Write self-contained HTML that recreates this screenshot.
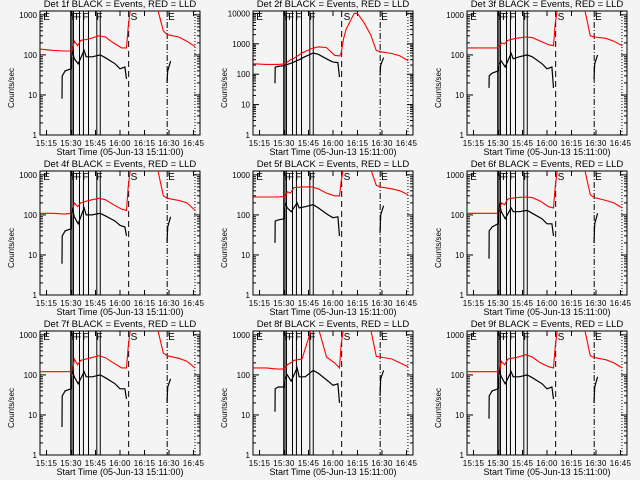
<!DOCTYPE html>
<html><head><meta charset="utf-8"><style>
html,body{margin:0;padding:0;background:#f4f4f4;}
svg{display:block;font-family:"Liberation Sans",sans-serif;}
</style></head><body>
<svg id="chart" width="640" height="480" viewBox="0 0 640 480"></svg>
<script>
const TICK_LABELS = ["15:15","15:30","15:45","16:00","16:15","16:30","16:45"];
const TICK_MIN = [4,19,34,49,64,79,94];
const T_RED = [0,8,15,19,20,21,23,25,30,36,40,45,50,53,54,55.5,57,62,64,68,72,75.5,78,85,90,95];
const T_BLK = [13.5,13.6,15.4,19,19.7,21,23.4,27,28.3,32,36.9,40,46,49,52,53];
const T_BLK2 = [77.8,78.2,80];
const EVT_SOLID = [18.8,19.6,20.5,24.2,26.6,29.7,34.8,36.9];
const EVT_DASH = 54.3, EVT_DASHDOT = 77.9, EVT_DOT = 94.9;
const YMAX = [1250,12000,1250,1250,1250,1250,1250,1250,1250];
const RED_V = [
 [140,130,125,125,140,220,170,230,250,300,280,200,150,150,500,1500,5000,9000,9000,5000,1400,400,320,280,220,160],
 [220,210,210,215,230,250,300,330,500,700,800,750,420,400,500,1500,3000,10000,10000,5000,2000,600,550,480,400,280],
 [150,150,150,150,160,200,190,230,260,280,270,220,180,170,600,1500,5000,9000,9000,5000,1400,300,280,260,220,170],
 [110,110,105,110,130,200,160,200,230,260,240,180,140,130,500,1500,5000,9000,9000,5000,1400,300,260,230,200,130],
 [280,280,280,290,300,380,350,480,500,500,450,350,300,300,700,1500,5000,9000,9000,5000,1400,550,500,450,400,320],
 [110,110,110,110,120,200,180,250,270,280,270,220,160,150,500,1500,5000,9000,9000,5000,1400,320,270,230,200,150],
 [120,120,120,120,130,250,180,230,260,300,270,200,150,150,500,1500,5000,9000,9000,5000,1400,350,300,260,220,150],
 [150,150,140,140,150,180,200,230,250,1500,1500,280,200,150,600,1500,5000,9000,9000,5000,1400,290,280,250,200,160],
 [120,120,120,120,130,220,180,250,270,320,280,200,160,150,500,1500,5000,9000,9000,5000,1400,300,270,240,200,150]
];
const BLK_V = [
 [8,30,40,45,130,80,60,130,90,90,100,85,60,45,50,25],
 [50,170,180,190,200,210,230,280,300,380,500,450,300,250,240,80],
 [15,30,35,40,60,70,50,110,80,90,100,90,60,45,50,15],
 [6,30,40,45,150,90,60,150,100,100,110,95,70,55,50,30],
 [20,70,75,80,200,150,120,200,150,160,180,150,100,85,90,30],
 [8,40,50,60,200,120,80,150,120,120,130,110,80,60,60,30],
 [5,30,40,45,130,90,60,120,90,90,100,85,60,45,45,25],
 [12,45,50,50,80,100,70,150,90,90,130,110,70,55,60,20],
 [8,30,40,45,130,90,60,120,90,90,100,85,60,45,50,25]
];
const BLK2_V = [
 [20,40,70],[90,200,350],[25,60,100],[20,50,90],[35,100,170],[20,60,110],[20,50,80],[30,80,130],[20,50,90]
];
const NS="http://www.w3.org/2000/svg";
const svg=document.getElementById('chart');
const X0=40,X1=200,Y0=11,Y1=135,TMAX=98;
function mk(tag,attrs,parent){const e=document.createElementNS(NS,tag);for(const k in attrs)e.setAttribute(k,attrs[k]);parent.appendChild(e);return e;}
for(let p=0;p<9;p++){
  const col=p%3,row=Math.floor(p/3);
  const g=mk('g',{transform:`translate(${Math.round(col*213.33)},${row*160})`},svg);
  
  
  const ymax=YMAX[p];
  const xs=t=>X0+t/TMAX*(X1-X0);
  const ys=v=>Y1-Math.log10(v)/Math.log10(ymax)*(Y1-Y0);
  const cp=mk('clipPath',{id:'c'+p},g);mk('rect',{x:X0,y:Y0,width:X1-X0,height:Y1-Y0},cp);
  const title=mk('text',{x:120,y:7,'text-anchor':'middle','font-size':'9.5'},g);
  title.textContent=`Det ${p+1}f BLACK = Events, RED = LLD`;
  
  
  const box=mk('rect',{x:X0,y:Y0,width:X1-X0,height:Y1-Y0,fill:'none',stroke:'#000','stroke-width':1},g);
  
  
  TICK_MIN.forEach((m,i)=>{const x=xs(m);
    mk('line',{x1:x,y1:Y1,x2:x,y2:Y1-5,stroke:'#000'},g);
    mk('line',{x1:x,y1:Y0,x2:x,y2:Y0+5,stroke:'#000'},g);
    const t=mk('text',{x:x,y:Y1+11,'text-anchor':'middle','font-size':'8','letter-spacing':'0.3'},g);
    t.textContent=TICK_LABELS[i];
    
    
  });
  const xt=mk('text',{x:120,y:Y1+20,'text-anchor':'middle','font-size':'9'},g);
  xt.textContent='Start Time (05-Jun-13 15:11:00)';
  
  
  const yt=mk('text',{x:0,y:0,'text-anchor':'middle','font-size':'8',transform:'translate(14,88) rotate(-90)'},g);
  yt.textContent='Counts/sec';
  
  
  const dec=Math.floor(Math.log10(ymax));
  for(let d=0;d<=dec;d++){
    const v=Math.pow(10,d),y=ys(v);
    mk('line',{x1:X0,y1:y,x2:X0+6,y2:y,stroke:'#000'},g);
    mk('line',{x1:X1,y1:y,x2:X1-6,y2:y,stroke:'#000'},g);
    const t=mk('text',{x:X0-3,y:y+3,'text-anchor':'end','font-size':'8'},g);
    t.textContent=String(v);
    
    
    for(let k=2;k<10;k++){const vv=v*k;if(vv>ymax)break;const y2=ys(vv);
      mk('line',{x1:X0,y1:y2,x2:X0+3,y2:y2,stroke:'#000'},g);
      mk('line',{x1:X1,y1:y2,x2:X1-3,y2:y2,stroke:'#000'},g);}
  }
  EVT_SOLID.forEach(t=>{mk('line',{x1:xs(t),y1:Y0,x2:xs(t),y2:Y1,stroke:'#000'},g);});
  mk('line',{x1:xs(EVT_DASH),y1:Y0,x2:xs(EVT_DASH),y2:Y1,stroke:'#000','stroke-dasharray':'6,4'},g);
  mk('line',{x1:xs(EVT_DASHDOT),y1:Y0,x2:xs(EVT_DASHDOT),y2:Y1,stroke:'#000','stroke-dasharray':'6,2,1,2'},g);
  mk('line',{x1:xs(EVT_DOT),y1:Y0,x2:xs(EVT_DOT),y2:Y1,stroke:'#000','stroke-dasharray':'1,2'},g);
  [['E',2],['F',19.5],['F',21.5],['F',26],['F',34.5],['S',55.5],['E',78.5]].forEach(([s,t])=>{
    const e=mk('text',{x:xs(t),y:Y0+9,'font-size':'10'},g);e.textContent=s;
    
    
  });
  const pts=(T,V)=>T.map((t,i)=>xs(t).toFixed(1)+','+ys(V[i]).toFixed(1)).join(' ');
  const red=mk('polyline',{points:pts(T_RED,RED_V[p]),fill:'none',stroke:'#ff0000','stroke-width':1.1,'clip-path':`url(#c${p})`},g);
  
  
  const blk=mk('polyline',{points:pts(T_BLK,BLK_V[p]),fill:'none',stroke:'#000','stroke-width':1.2,'clip-path':`url(#c${p})`},g);
  
  
  const blk2=mk('polyline',{points:pts(T_BLK2,BLK2_V[p]),fill:'none',stroke:'#000','stroke-width':1.2,'clip-path':`url(#c${p})`},g);
  
  
}
</script>
</body></html>
